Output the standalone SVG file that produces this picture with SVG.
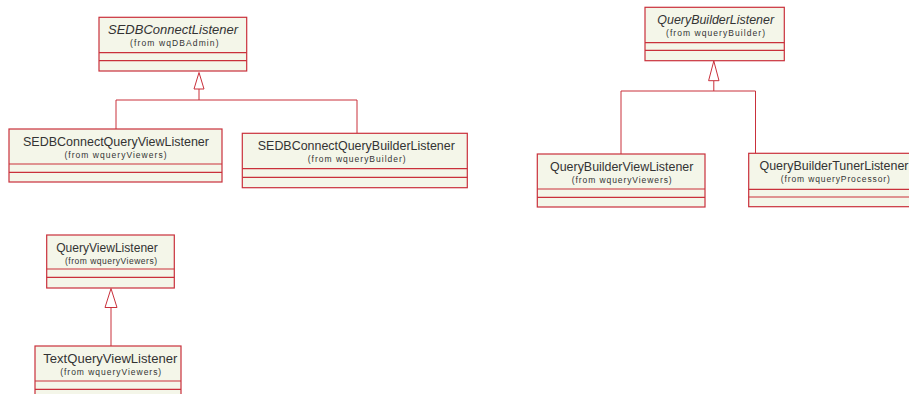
<svg xmlns="http://www.w3.org/2000/svg" width="909" height="394" viewBox="0 0 909 394">
  <style>
    .box { fill: #f4f6e9; stroke: #c9303b; stroke-width: 1.2; }
    .sep { stroke: #c9303b; stroke-width: 1.2; fill: none; }
    .link { stroke: #c9303b; stroke-width: 1; fill: none; }
    .head { stroke: #c9303b; stroke-width: 1; fill: #ffffff; }
    .name { font-family: "Liberation Sans", Arial, sans-serif; font-size: 12.5px; fill: #333333; text-anchor: middle; }
    .abstract { font-style: italic; }
    .pkg { font-family: "Liberation Sans", Arial, sans-serif; font-size: 8.5px; fill: #333333; text-anchor: middle; }
  </style>
  <rect width="909" height="394" fill="#ffffff"/>

  <!-- generalization connectors -->
  <g id="connectors">
    <path class="link" d="M199,89 V100 M116,100 H357 M116,100 V129 M357,100 V133"/>
    <polygon class="head" points="199,72.5 194,89 204,89"/>
    <path class="link" d="M713.8,80.7 V91 M621,91 H755.5 M621,91 V154 M755.5,91 V153.5"/>
    <polygon class="head" points="713.8,61 708.6,80.7 719,80.7"/>
    <path class="link" d="M111,307.5 V346"/>
    <polygon class="head" points="111,288.5 105,307.5 117,307.5"/>
  </g>

  <g id="SEDBConnectListener">
    <rect class="box" x="99" y="17.3" width="147.7" height="53.7"/>
    <path class="sep" d="M99,52.7 H246.7 M99,60.7 H246.7"/>
    <text class="name abstract" x="173" y="33.5" textLength="130" lengthAdjust="spacingAndGlyphs">SEDBConnectListener</text>
    <text class="pkg" x="174.3" y="46" textLength="88.5" lengthAdjust="spacing">(from wqDBAdmin)</text>
  </g>

  <g id="SEDBConnectQueryViewListener">
    <rect class="box" x="9" y="129" width="213" height="53"/>
    <path class="sep" d="M9,164 H222 M9,172.3 H222"/>
    <text class="name" x="116" y="146" textLength="186" lengthAdjust="spacingAndGlyphs">SEDBConnectQueryViewListener</text>
    <text class="pkg" x="115.5" y="157.5" textLength="102" lengthAdjust="spacing">(from wqueryViewers)</text>
  </g>

  <g id="SEDBConnectQueryBuilderListener">
    <rect class="box" x="242.3" y="133.3" width="225" height="54.4"/>
    <path class="sep" d="M242.3,168.7 H467.3 M242.3,177.3 H467.3"/>
    <text class="name" x="356.3" y="150" textLength="197" lengthAdjust="spacingAndGlyphs">SEDBConnectQueryBuilderListener</text>
    <text class="pkg" x="356.7" y="162" textLength="98" lengthAdjust="spacing">(from wqueryBuilder)</text>
  </g>

  <g id="QueryBuilderListener">
    <rect class="box" x="645" y="7.3" width="139.3" height="53.4"/>
    <path class="sep" d="M645,42.7 H784.3 M645,50.3 H784.3"/>
    <text class="name abstract" x="715.7" y="23.5" textLength="116.7" lengthAdjust="spacingAndGlyphs">QueryBuilderListener</text>
    <text class="pkg" x="715.5" y="36" textLength="99" lengthAdjust="spacing">(from wqueryBuilder)</text>
  </g>

  <g id="QueryBuilderViewListener">
    <rect class="box" x="537.3" y="154" width="167.7" height="53"/>
    <path class="sep" d="M537.3,189 H705 M537.3,197.3 H705"/>
    <text class="name" x="621.7" y="170.5" textLength="143.3" lengthAdjust="spacingAndGlyphs">QueryBuilderViewListener</text>
    <text class="pkg" x="621.7" y="182.5" textLength="100" lengthAdjust="spacing">(from wqueryViewers)</text>
  </g>

  <g id="QueryBuilderTunerListener">
    <rect class="box" x="748.7" y="153.3" width="175" height="53.4"/>
    <path class="sep" d="M748.7,189.3 H923.7 M748.7,197 H923.7"/>
    <text class="name" x="834" y="170" textLength="149" lengthAdjust="spacingAndGlyphs">QueryBuilderTunerListener</text>
    <text class="pkg" x="835.3" y="182" textLength="109" lengthAdjust="spacing">(from wqueryProcessor)</text>
  </g>

  <g id="QueryViewListener">
    <rect class="box" x="46.7" y="235" width="127.6" height="53"/>
    <path class="sep" d="M46.7,269 H174.3 M46.7,277.3 H174.3"/>
    <text class="name" x="107" y="251.5" textLength="101.7" lengthAdjust="spacingAndGlyphs">QueryViewListener</text>
    <text class="pkg" x="111" y="263.5" textLength="92" lengthAdjust="spacing">(from wqueryViewers)</text>
  </g>

  <g id="TextQueryViewListener">
    <rect class="box" x="35" y="346" width="146" height="53"/>
    <path class="sep" d="M35,381 H181 M35,389.3 H181"/>
    <text class="name" x="110.3" y="362.5" textLength="134" lengthAdjust="spacingAndGlyphs">TextQueryViewListener</text>
    <text class="pkg" x="110.7" y="374.5" textLength="101" lengthAdjust="spacing">(from wqueryViewers)</text>
  </g>
</svg>
